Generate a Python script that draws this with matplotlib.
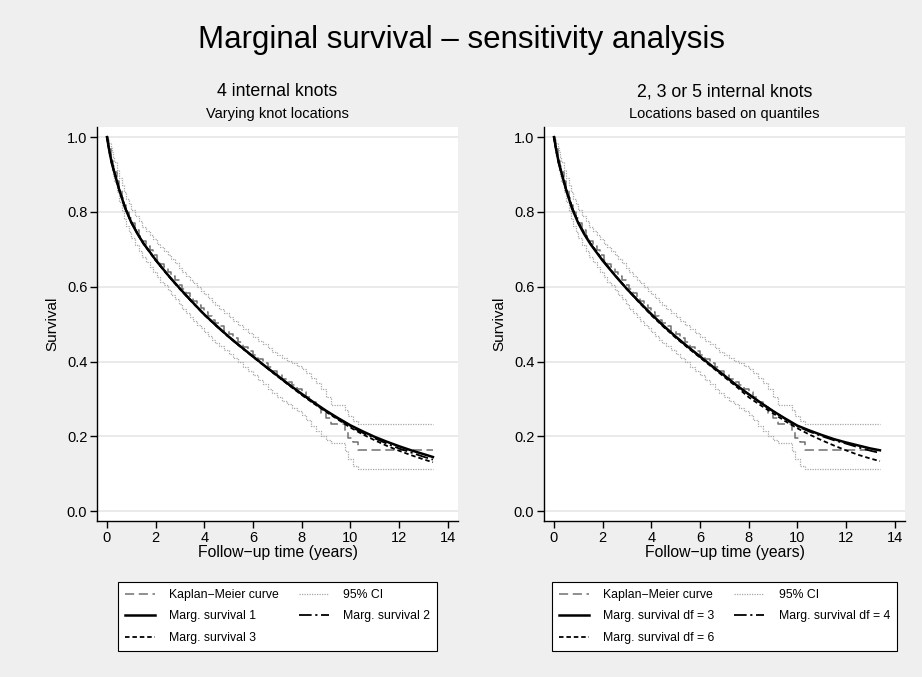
import matplotlib
matplotlib.use("Agg")
import matplotlib.pyplot as plt
from matplotlib.lines import Line2D

plt.rcParams['font.family'] = ['Liberation Sans', 'DejaVu Sans']

# ---- Kaplan-Meier estimate and 95% CI (step functions)
km_time = [0.00, 0.05, 0.10, 0.15, 0.20, 0.25, 0.30, 0.40, 0.50, 0.60, 0.70, 0.80,
           0.90, 1.00, 1.15, 1.30, 1.45, 1.60, 1.75, 1.90, 2.05, 2.20, 2.35, 2.50,
           2.65, 2.80, 2.95, 3.10, 3.25, 3.40, 3.55, 3.70, 3.85, 4.00, 4.15, 4.30,
           4.45, 4.60, 4.80, 5.00, 5.20, 5.40, 5.60, 5.80, 6.00, 6.20, 6.40, 6.60,
           6.80, 7.00, 7.20, 7.40, 7.60, 7.80, 8.00, 8.20, 8.40, 8.60, 8.80, 9.00,
           9.20, 9.80, 9.90, 10.10, 10.30, 13.40]
km_surv = [1.000, 0.985, 0.968, 0.952, 0.937, 0.922, 0.908, 0.883, 0.860, 0.838, 0.818, 0.800,
           0.784, 0.770, 0.752, 0.737, 0.722, 0.710, 0.697, 0.685, 0.672, 0.661, 0.652, 0.640,
           0.628, 0.617, 0.604, 0.593, 0.583, 0.572, 0.562, 0.552, 0.543, 0.533, 0.522, 0.512,
           0.503, 0.494, 0.483, 0.473, 0.462, 0.452, 0.440, 0.429, 0.418, 0.406, 0.396, 0.385,
           0.374, 0.364, 0.354, 0.345, 0.337, 0.328, 0.318, 0.306, 0.292, 0.278, 0.263, 0.248,
           0.232, 0.212, 0.195, 0.184, 0.165, 0.165]
ci_upper = [1.000, 0.995, 0.984, 0.972, 0.959, 0.946, 0.934, 0.912, 0.891, 0.871, 0.852, 0.835,
            0.820, 0.806, 0.789, 0.775, 0.761, 0.750, 0.738, 0.727, 0.715, 0.705, 0.696, 0.685,
            0.674, 0.663, 0.650, 0.639, 0.630, 0.619, 0.609, 0.599, 0.590, 0.580, 0.569, 0.559,
            0.550, 0.541, 0.530, 0.520, 0.509, 0.499, 0.488, 0.477, 0.466, 0.455, 0.446, 0.436,
            0.426, 0.417, 0.409, 0.402, 0.396, 0.389, 0.381, 0.370, 0.357, 0.343, 0.326, 0.306,
            0.285, 0.270, 0.255, 0.240, 0.234, 0.234]
ci_lower = [1.000, 0.972, 0.950, 0.930, 0.913, 0.896, 0.880, 0.852, 0.827, 0.803, 0.782, 0.763,
            0.746, 0.731, 0.712, 0.696, 0.680, 0.667, 0.653, 0.640, 0.626, 0.614, 0.604, 0.591,
            0.579, 0.567, 0.553, 0.541, 0.531, 0.519, 0.509, 0.499, 0.490, 0.480, 0.469, 0.459,
            0.450, 0.441, 0.430, 0.420, 0.409, 0.398, 0.386, 0.375, 0.364, 0.351, 0.340, 0.328,
            0.316, 0.306, 0.296, 0.286, 0.277, 0.267, 0.256, 0.243, 0.228, 0.214, 0.200, 0.190,
            0.183, 0.160, 0.140, 0.120, 0.112, 0.112]

# ---- Marginal survival curves
ms_time = [0.0, 0.1, 0.2, 0.35, 0.5, 0.75, 1.0, 1.25, 1.5, 2.0, 2.5, 3.0, 3.5, 4.0,
           4.5, 5.0, 5.5, 6.0, 6.5, 7.0, 7.5, 8.0, 8.5, 9.0, 9.5, 10.0, 10.5, 11.0,
           11.5, 12.0, 12.5, 13.0, 13.4]
# left panel: 4 internal knots, varying locations
ms_1 = [1.000, 0.962, 0.930, 0.895, 0.860, 0.810, 0.772, 0.742, 0.716, 0.672, 0.632,
        0.595, 0.560, 0.526, 0.496, 0.467, 0.440, 0.414, 0.388, 0.363, 0.338, 0.314,
        0.291, 0.269, 0.249, 0.230, 0.214, 0.199, 0.186, 0.174, 0.163, 0.153, 0.145]
ms_2 = [1.000, 0.962, 0.931, 0.896, 0.861, 0.811, 0.773, 0.743, 0.716, 0.671, 0.631,
        0.594, 0.559, 0.526, 0.495, 0.466, 0.439, 0.413, 0.387, 0.362, 0.337, 0.313,
        0.290, 0.268, 0.247, 0.227, 0.210, 0.195, 0.181, 0.168, 0.157, 0.146, 0.138]
ms_3 = [1.000, 0.961, 0.929, 0.894, 0.859, 0.810, 0.772, 0.742, 0.715, 0.671, 0.631,
        0.594, 0.559, 0.525, 0.495, 0.466, 0.439, 0.413, 0.387, 0.361, 0.336, 0.311,
        0.288, 0.266, 0.245, 0.224, 0.206, 0.190, 0.175, 0.162, 0.150, 0.139, 0.131]
# right panel: df = 3, 4, 6 with quantile based knots
ms_df3 = [1.000, 0.963, 0.931, 0.895, 0.859, 0.808, 0.770, 0.740, 0.714, 0.670, 0.631,
          0.594, 0.560, 0.527, 0.496, 0.467, 0.440, 0.414, 0.388, 0.363, 0.337, 0.313,
          0.290, 0.268, 0.248, 0.229, 0.216, 0.204, 0.193, 0.184, 0.176, 0.168, 0.163]
ms_df4 = [1.000, 0.962, 0.930, 0.895, 0.860, 0.810, 0.771, 0.741, 0.715, 0.671, 0.631,
          0.594, 0.560, 0.526, 0.495, 0.466, 0.439, 0.413, 0.387, 0.362, 0.337, 0.313,
          0.290, 0.268, 0.247, 0.227, 0.213, 0.201, 0.190, 0.181, 0.171, 0.162, 0.156]
ms_df6 = [1.000, 0.961, 0.929, 0.894, 0.860, 0.811, 0.773, 0.743, 0.716, 0.672, 0.632,
          0.594, 0.558, 0.524, 0.493, 0.464, 0.437, 0.411, 0.385, 0.359, 0.333, 0.305,
          0.283, 0.262, 0.241, 0.222, 0.205, 0.190, 0.176, 0.163, 0.151, 0.141, 0.134]

x_ticks = [0, 2, 4, 6, 8, 10, 12, 14]
y_ticks = [0.0, 0.2, 0.4, 0.6, 0.8, 1.0]

panels = [
    dict(title="4 internal knots", subtitle="Varying knot locations",
         curves=[ms_1, ms_2, ms_3],
         labels=["Marg. survival 1", "Marg. survival 2", "Marg. survival 3"],
         left=97),
    dict(title="2, 3 or 5 internal knots", subtitle="Locations based on quantiles",
         curves=[ms_df3, ms_df4, ms_df6],
         labels=["Marg. survival df = 3", "Marg. survival df = 4",
                 "Marg. survival df = 6"],
         left=544),
]

W, H = 922, 677
fig = plt.figure(figsize=(W / 100, H / 100), dpi=100)
fig.patch.set_facecolor('#efefef')

fig.text(0.5, 1 - 40 / H, "Marginal survival \u2013 sensitivity analysis",
         ha='center', va='center', fontsize=22.5)

styles = [dict(color='black', lw=1.8, ls='-'),
          dict(color='black', lw=1.3, ls=(0, (7, 2, 1.2, 2))),
          dict(color='black', lw=1.3, ls=(0, (2.5, 1.6)))]
km_style = dict(color='#707070', lw=1.1, ls=(0, (6, 3)))
ci_style = dict(color='#a8a8a8', lw=0.9, ls=(0, (1, 1)))

for p in panels:
    ax = fig.add_axes([p['left'] / W, (H - 521) / H, 361 / W, 394 / H])
    ax.set_facecolor('white')

    ax.step(km_time, ci_upper, where='post', **ci_style)
    ax.step(km_time, ci_lower, where='post', **ci_style)
    ax.step(km_time, km_surv, where='post', **km_style)
    for vals, st in zip(p['curves'][::-1], styles[::-1]):
        ax.plot(ms_time, vals, **st)

    ax.set_xlim(-0.41, 14.43)
    ax.set_ylim(-0.026, 1.027)
    ax.set_xticks(x_ticks)
    ax.set_yticks(y_ticks)
    ax.set_yticklabels([f"{v:.1f}" for v in y_ticks])
    ax.yaxis.grid(True, color='#e6e6e6', lw=1.2)
    ax.set_axisbelow(True)
    for s in ['top', 'right']:
        ax.spines[s].set_visible(False)
    for s in ['left', 'bottom']:
        ax.spines[s].set_linewidth(1.0)
    ax.tick_params(direction='out', length=5, width=1, labelsize=10.5, pad=2)
    ax.set_xlabel("Follow\u2212up time (years)", fontsize=11.3, labelpad=0)
    ax.set_ylabel("Survival", fontsize=11, labelpad=5)

    cx = (p['left'] + 180.5) / W
    fig.text(cx, 1 - 92 / H, p['title'], ha='center', va='center', fontsize=12.8)
    fig.text(cx, 1 - 114 / H, p['subtitle'], ha='center', va='center', fontsize=10.5)

    handles = [Line2D([], [], **km_style), Line2D([], [], **styles[0]),
               Line2D([], [], **styles[2]), Line2D([], [], **ci_style),
               Line2D([], [], **styles[1])]
    labels = ["Kaplan\u2212Meier curve", p['labels'][0], p['labels'][2],
              "95% CI", p['labels'][1]]
    leg = ax.legend(handles, labels, ncol=2, loc='upper center',
                    bbox_to_anchor=(0.5, -0.155), fontsize=8.8, frameon=True,
                    fancybox=False, edgecolor='black', framealpha=1,
                    handlelength=2.45, handletextpad=1.2, columnspacing=1.6,
                    labelspacing=0.78, borderpad=0.55, borderaxespad=0)
    leg.get_frame().set_linewidth(0.8)

fig.savefig("out.png", dpi=100, facecolor=fig.get_facecolor())
